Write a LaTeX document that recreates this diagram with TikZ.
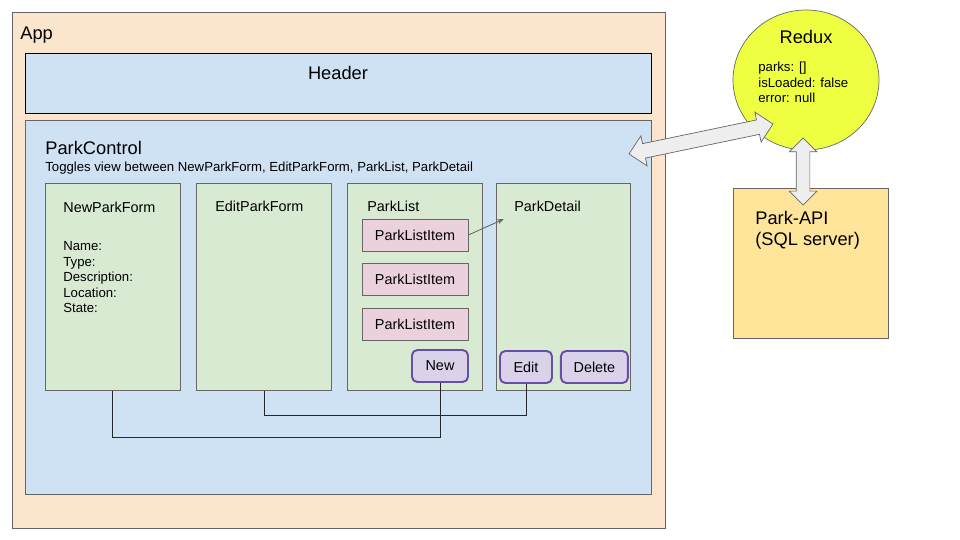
\documentclass[tikz,border=0pt]{standalone}
\usepackage{fontspec}
\setmainfont{Liberation Sans}
\usetikzlibrary{positioning,calc,arrows.meta,shapes.arrows,shapes.geometric}
\definecolor{appfill}{HTML}{FCE5CD}
\definecolor{bluefill}{HTML}{CFE2F3}
\definecolor{greenfill}{HTML}{D9EAD3}
\definecolor{pinkfill}{HTML}{EAD1DC}
\definecolor{btnfill}{HTML}{D9D2E9}
\definecolor{btnline}{HTML}{674EA7}
\definecolor{reduxfill}{HTML}{EEFF41}
\definecolor{apifill}{HTML}{FFE599}
\definecolor{syncfill}{HTML}{EEEEEE}
\definecolor{boxline}{HTML}{666666}

\begin{document}
\begin{tikzpicture}[x=0.02cm,y=-0.02cm,
  box/.style={draw=boxline,inner sep=0pt,anchor=north west},
  view/.style={box,fill=greenfill,minimum width=2.7cm,minimum height=4.14cm},
  item/.style={draw=boxline,fill=pinkfill,inner sep=0pt,minimum width=2.12cm,minimum height=0.64cm,midtext},
  button/.style={draw=btnline,fill=btnfill,line width=1.1pt,rounded corners=3pt,inner sep=0pt,minimum height=0.64cm,midtext},
  txt/.style={anchor=base west,inner sep=0pt},
  bigtext/.style={font=\fontsize{10.4}{12}\selectfont},
  midtext/.style={font=\fontsize{8.2}{10}\selectfont},
  smalltext/.style={font=\fontsize{7.5}{9}\selectfont},
  wire/.style={draw=black!85,line width=0.5pt},
  sync/.style={double arrow,draw=boxline,fill=syncfill,inner xsep=0pt,inner ysep=0.14cm,double arrow head extend=0.16cm}]

  \useasboundingbox (0,0) rectangle (960,540);

  \node[box,fill=appfill,minimum width=13.06cm,minimum height=10.32cm] (app) at (12,12) {};
  \node[txt,bigtext] (apptext) at (20,40) {App};

  \node[box,draw=black,fill=bluefill,minimum width=12.52cm,minimum height=1.2cm] (header) at (25,53) {};
  \node[anchor=base,inner sep=0pt,bigtext] (headertext) at (338,80) {Header};

  \node[box,fill=bluefill,minimum width=12.52cm,minimum height=7.48cm] (pc) at (25,120) {};
  \node[txt,bigtext] (pctext) at (45,155) {ParkControl};
  \node[txt,smalltext] (pcnote) at (45,172) {Toggles view between NewParkForm, EditParkForm, ParkList, ParkDetail};

  \node[view] (nf) at (45,183) {};
  \node[view,right=0.31cm of nf] (ef) {};
  \node[view,right=0.31cm of ef] (pl) {};
  \node[view,right=0.25cm of pl] (pd) {};

  \node[txt,midtext] (nftext) at (63,213) {NewParkForm};
  \foreach \f [count=\i] in {Name:,Type:,Description:,Location:,State:}
    \node[txt,smalltext] (field\i) at (63,235.5+15.5*\i) {\f};
  \node[txt,midtext] (eftext) at (215,212) {EditParkForm};
  \node[txt,midtext] (pltext) at (367,212) {ParkList};
  \node[txt,midtext] (pdtext) at (514,212) {ParkDetail};

  \node[item] (item1) at (415,235) {ParkListItem\hspace{0.12cm}};
  \node[item,below=0.24cm of item1] (item2) {ParkListItem\hspace{0.12cm}};
  \node[item,below=0.24cm of item2] (item3) {ParkListItem\hspace{0.12cm}};

  \node[button,minimum width=1.12cm] (new) at (440,366) {New};
  \node[button,minimum width=1.04cm] (edit) at (526,367) {Edit};
  \node[button,minimum width=1.34cm,right=0.14cm of edit] (delete) {Delete};

  \coordinate (pdtip) at (504,219);
  \draw[boxline,line width=0.5pt,-{Stealth[length=4pt,width=3pt]}] (item1.east) -- (pdtip);

  \draw[wire] (nf.south) -- ++(0,47) -| (new.south);
  \draw[wire] (ef.south) -- ++(0,25) -| (edit.south);

  \node[ellipse,draw=boxline,fill=reduxfill,inner sep=0pt,minimum width=2.92cm,minimum height=2.8cm] (redux) at (806,80) {};
  \node[anchor=base,inner sep=0pt,bigtext] (reduxtext) at (806,44) {Redux};
  \foreach \s [count=\i] in {parks: [],isLoaded: false,error: null}
    \node[txt,smalltext] (state\i) at (758,56.5+15.5*\i) {\s};

  \node[box,fill=apifill,minimum width=3.1cm,minimum height=3cm] (api) at (733,188) {};
  \node[txt,bigtext] (apitext) at (755,225) {Park-API};
  \node[txt,bigtext] (sqltext) at (755,246) {(SQL server)};

  \coordinate (pcend) at (629,154);
  \coordinate (reduxend) at (773,124);
  \coordinate (reduxbot) at (803,138);
  \coordinate (apitop) at (803,205);
  \path let \p1=($(reduxend)-(pcend)$), \n1={atan2(\y1,\x1)}, \n2={veclen(\x1,\y1)} in
    node[sync,minimum height=\n2,rotate=\n1] (sync1) at ($(pcend)!0.5!(reduxend)$) {};
  \path let \p1=($(apitop)-(reduxbot)$), \n1={atan2(\y1,\x1)}, \n2={veclen(\x1,\y1)} in
    node[sync,inner ysep=0.13cm,double arrow head extend=0.14cm,minimum height=\n2,rotate=\n1] (sync2) at ($(reduxbot)!0.5!(apitop)$) {};

\end{tikzpicture}
\end{document}
